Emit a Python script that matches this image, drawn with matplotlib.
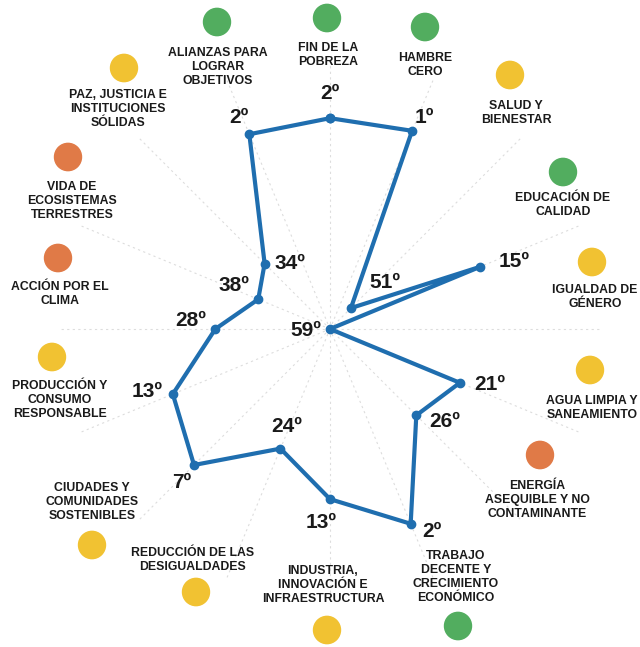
import numpy as np
import matplotlib
matplotlib.use("Agg")
import matplotlib.pyplot as plt
from matplotlib.patches import Circle

plt.rcParams['font.family'] = ['Liberation Sans', 'DejaVu Sans']

# ODS (sin el 14), en sentido horario desde arriba
categorias = [
    "FIN DE LA\nPOBREZA", "HAMBRE\nCERO", "SALUD Y\nBIENESTAR",
    "EDUCACIÓN DE\nCALIDAD", "IGUALDAD DE\nGÉNERO", "AGUA LIMPIA Y\nSANEAMIENTO",
    "ENERGÍA\nASEQUIBLE Y NO\nCONTAMINANTE", "TRABAJO\nDECENTE Y\nCRECIMIENTO\nECONÓMICO",
    "INDUSTRIA,\nINNOVACIÓN E\nINFRAESTRUCTURA", "REDUCCIÓN DE LAS\nDESIGUALDADES",
    "CIUDADES Y\nCOMUNIDADES\nSOSTENIBLES", "PRODUCCIÓN Y\nCONSUMO\nRESPONSABLE",
    "ACCIÓN POR EL\nCLIMA", "VIDA DE\nECOSISTEMAS\nTERRESTRES",
    "PAZ, JUSTICIA E\nINSTITUCIONES\nSÓLIDAS", "ALIANZAS PARA\nLOGRAR\nOBJETIVOS",
]
posicion = [2, 1, 51, 15, 59, 21, 26, 2, 13, 24, 7, 13, 28, 38, 34, 2]
estado = ["verde", "verde", "amarillo", "verde", "amarillo", "amarillo",
          "naranja", "verde", "amarillo", "amarillo", "amarillo", "amarillo",
          "naranja", "naranja", "amarillo", "verde"]

colores = {"verde": "#52ad5f", "amarillo": "#f1c232", "naranja": "#e07a47"}
azul = "#1f6eaf"

# layout (pixels in a 640x647 canvas)
W, H = 640, 647
cx, cy, R = 330, 329, 270
offsets = [(0, 25), (12, 13), (34, 26), (34, 5), (-24, -1), (30, -2), (28, -6),
           (21, -8), (-9, -23), (6, 22), (-12, -18), (-26, 3), (-25, 8),
           (-24, 14), (25, 0), (-10, 17)]
label_xy = [(328, 55), (425, 65), (516, 113), (563, 205), (595, 297),
            (592, 408), (537, 500), (456, 577), (323, 585), (193, 560),
            (92, 502), (60, 400), (60, 294), (72, 201), (118, 109), (218, 67)]
circle_xy = [(327, 18), (425, 27), (510, 75), (563, 172), (592, 262),
             (590, 370), (540, 455), (458, 626), (327, 630), (196, 592),
             (92, 545), (52, 357), (58, 258), (68, 157), (124, 68), (217, 22)]

fig = plt.figure(figsize=(W / 100, H / 100), dpi=100)
ax = fig.add_axes([(cx - R) / W, (H - cy - R) / H, 2 * R / W, 2 * R / H],
                  projection='polar')
ax.set_theta_zero_location('N')
ax.set_theta_direction(-1)

n = len(categorias)
theta = np.arange(n) * 2 * np.pi / n
ax.set_ylim(59, -14)
ax.plot(np.append(theta, theta[0]), posicion + posicion[:1], color=azul,
        lw=3, marker='o', ms=6, zorder=3, clip_on=False)

ax.set_xticks(theta)
ax.set_xticklabels([])
ax.set_yticks([])
ax.spines['polar'].set_visible(False)
ax.xaxis.grid(True, color='#dddddd', ls=(0, (2, 3)), lw=0.8)
ax.yaxis.grid(False)

for t, v, off in zip(theta, posicion, offsets):
    ax.annotate(f"{v}º", xy=(t, v), xytext=off, textcoords='offset pixels',
                ha='center', va='center', fontsize=15, fontweight='bold',
                color='#1a1a1a', zorder=4)

for txt, (lx, ly) in zip(categorias, label_xy):
    fig.text(lx / W, 1 - ly / H, txt, ha='center', va='center', fontsize=8.8,
             fontweight='bold', color='#1a1a1a', linespacing=1.25)

for est, (px, py) in zip(estado, circle_xy):
    fig.patches.append(Circle((px / W, 1 - py / H), 13.5 / W,
                              transform=fig.transFigure, color=colores[est]))

fig.savefig("out.png", dpi=100, facecolor='white')
